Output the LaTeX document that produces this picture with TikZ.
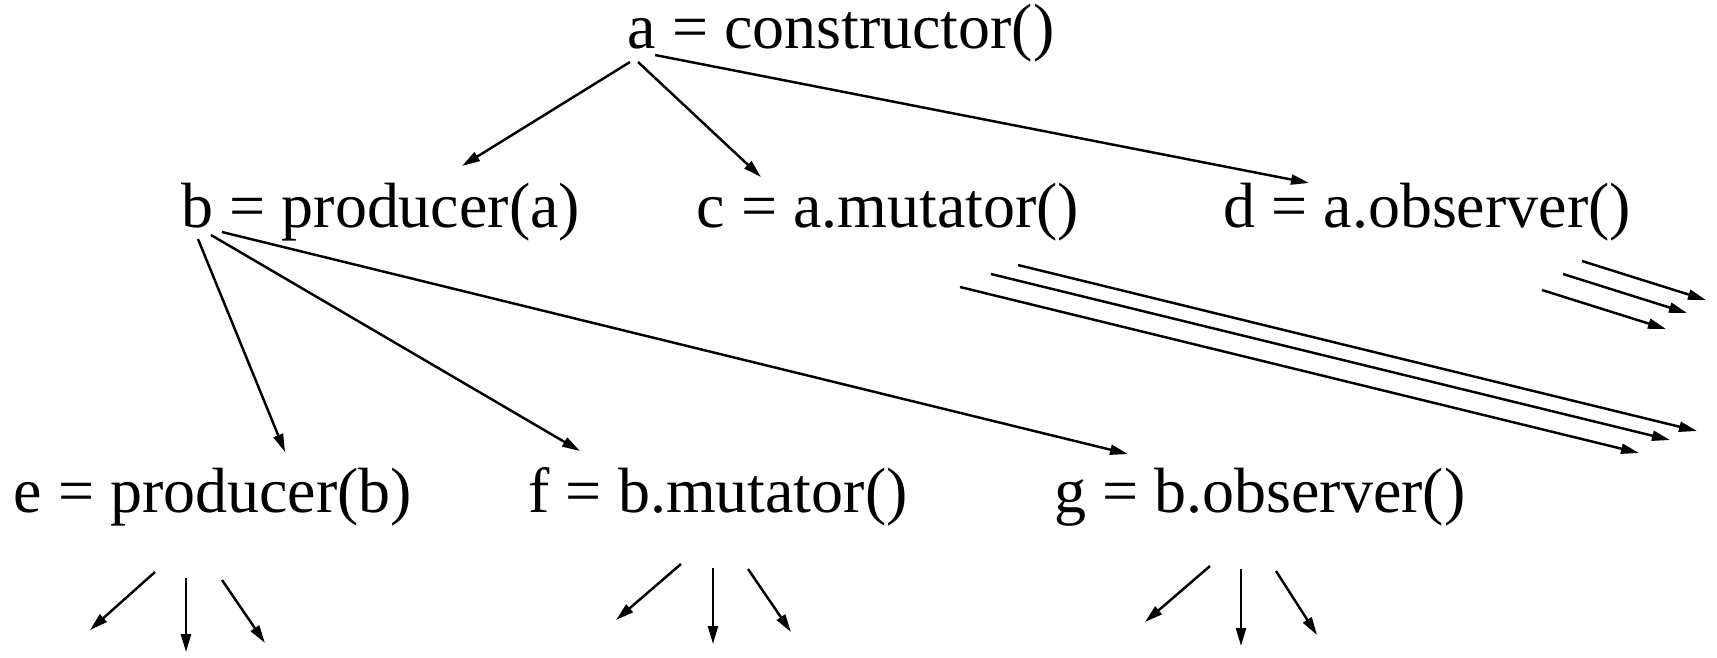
\documentclass[tikz,border=0pt]{standalone}
\usepackage{fontspec}
\setmainfont{Liberation Serif}
\usetikzlibrary{arrows.meta}

\begin{document}
\begin{tikzpicture}[call/.style={anchor=base west, inner sep=0pt, font=\fontsize{18.2}{22}\selectfont}, arrow/.style={-{Triangle[length=1.8mm, width=1mm]}, line width=0.7pt}]
\useasboundingbox (0,0) rectangle (17.17,6.57);

\node[call] (a) at (6.27,6.09) {a = constructor()};
\node[call] (b) at (1.81,4.30) {b = producer(a)};
\node[call] (c) at (6.96,4.30) {c = a.mutator()};
\node[call] (d) at (12.23,4.30) {d = a.observer()};
\node[call] (e) at (0.13,1.45) {e = producer(b)};
\node[call] (f) at (5.28,1.45) {f = b.mutator()};
\node[call] (g) at (10.54,1.45) {g = b.observer()};

\draw[arrow] ([shift={(0.03,-0.14)}]a.base west) -- ([shift={(2.81,0.61)}]b.base west);
\draw[arrow] ([shift={(0.11,-0.14)}]a.base west) -- ([shift={(0.65,0.50)}]c.base west);
\draw[arrow] ([shift={(0.28,-0.07)}]a.base west) -- ([shift={(0.86,0.44)}]d.base west);

\draw[arrow] ([shift={(0.17,-0.12)}]b.base west) -- ([shift={(2.72,0.60)}]e.base west);
\draw[arrow] ([shift={(0.30,-0.08)}]b.base west) -- ([shift={(0.52,0.61)}]f.base west);
\draw[arrow] ([shift={(0.41,-0.05)}]b.base west) -- ([shift={(0.74,0.58)}]g.base west);

% further calls from c and d
\foreach \dx/\dy in {3.22/-0.38, 2.95/-0.47, 2.64/-0.60}
  \draw[arrow] ([shift={(\dx,\dy)}]c.base west) -- ++(6.79,-1.66);
\foreach \dx/\dy in {3.59/-0.34, 3.40/-0.47, 3.19/-0.63}
  \draw[arrow] ([shift={(\dx,\dy)}]d.base west) -- ++(1.24,-0.39);

% further calls from e, f and g
\draw[arrow] ([shift={(1.42,-0.60)}]e.base west) -- ++(-0.65,-0.58);
\draw[arrow] ([shift={(1.73,-0.66)}]e.base west) -- ++(0,-0.74);
\draw[arrow] ([shift={(2.09,-0.68)}]e.base west) -- ++(0.43,-0.63);
\draw[arrow] ([shift={(1.53,-0.52)}]f.base west) -- ++(-0.65,-0.56);
\draw[arrow] ([shift={(1.85,-0.56)}]f.base west) -- ++(0,-0.76);
\draw[arrow] ([shift={(2.20,-0.57)}]f.base west) -- ++(0.43,-0.63);
\draw[arrow] ([shift={(1.56,-0.54)}]g.base west) -- ++(-0.65,-0.56);
\draw[arrow] ([shift={(1.87,-0.57)}]g.base west) -- ++(0,-0.77);
\draw[arrow] ([shift={(2.22,-0.59)}]g.base west) -- ++(0.41,-0.64);

\end{tikzpicture}
\end{document}
